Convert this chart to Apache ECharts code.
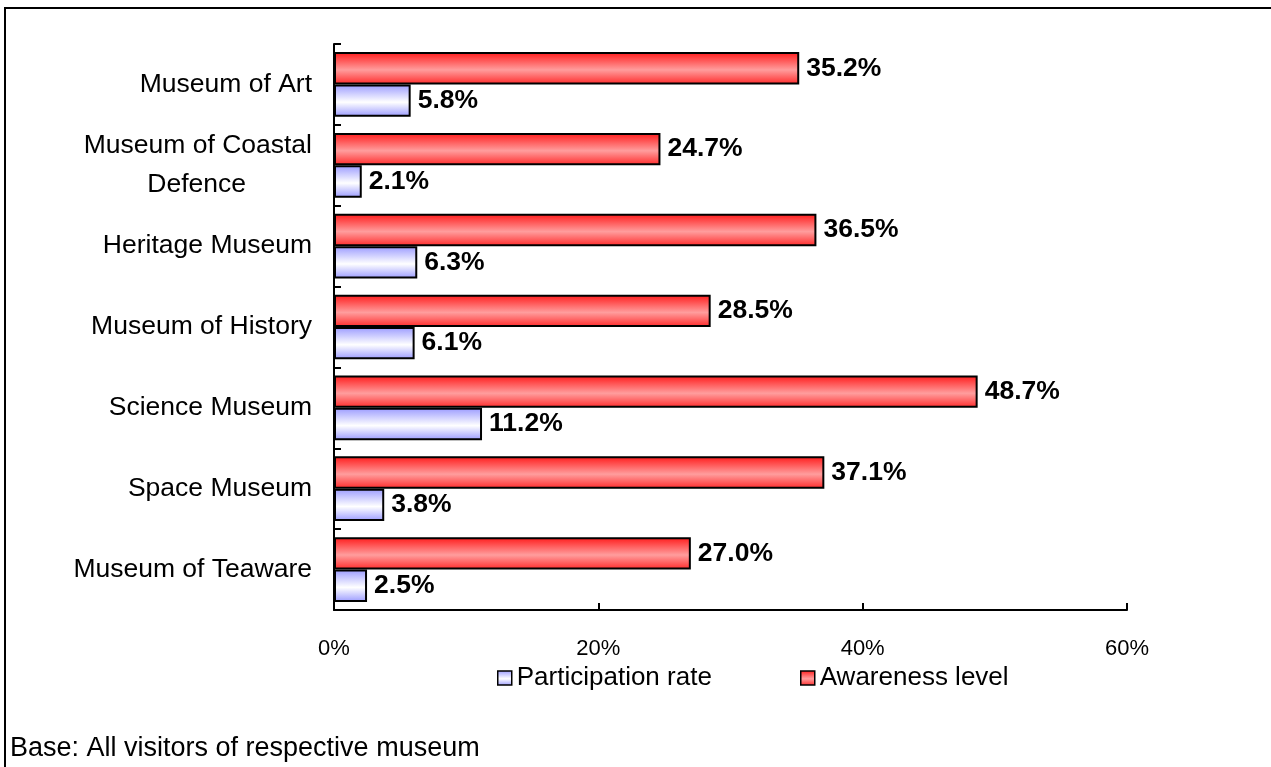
<!DOCTYPE html>
<html><head><meta charset="utf-8">
<script src="https://cdn.jsdelivr.net/npm/echarts@6/dist/echarts.min.js"></script>
<style>html,body{margin:0;padding:0;background:#fff}#c{width:1271px;height:767px}</style>
</head><body><div id="c"></div>
<script>
const categories = ['Museum of Art','Museum of Coastal Defence','Heritage Museum','Museum of History','Science Museum','Space Museum','Museum of Teaware'];
const awareness = [35.2, 24.7, 36.5, 28.5, 48.7, 37.1, 27.0];
const participation = [5.8, 2.1, 6.3, 6.1, 11.2, 3.8, 2.5];
const xTicks = [0, 20, 40, 60];
const footnote = 'Base: All visitors of respective museum';

const FONT = 'Arial, "Liberation Sans", sans-serif';
const redGrad = new echarts.graphic.LinearGradient(0,0,0,1,[
  {offset:0,color:'#ff1a1a'},{offset:0.55,color:'#ff9d9d'},{offset:1,color:'#ff2a2a'}]);
const blueGrad = new echarts.graphic.LinearGradient(0,0,0,1,[
  {offset:0,color:'#9a9aff'},{offset:0.55,color:'#ffffff'},{offset:1,color:'#9a9aff'}]);

const chart = echarts.init(document.getElementById('c'), null, {renderer:'canvas'});
const labelCfg = {show:true, position:'right', distance:7, color:'#000', fontFamily:FONT, fontSize:26.5, fontWeight:'bold',
  formatter: p => p.value.toFixed(1) + '%'};
chart.setOption({
  animation:false,
  backgroundColor:'#fff',
  grid:{left:334, right:144, top:44, bottom:157, containLabel:false},
  xAxis:{type:'value', min:xTicks[0], max:xTicks[xTicks.length-1], interval:20,
    axisLine:{show:true, lineStyle:{color:'#000', width:2}},
    axisTick:{show:true, inside:true, length:7, lineStyle:{color:'#000', width:2}},
    splitLine:{show:false},
    axisLabel:{margin:28, color:'#000', fontFamily:FONT, fontSize:22, formatter:'{value}%'}},
  yAxis:{type:'category', data:categories, inverse:true,
    axisLine:{show:true, lineStyle:{color:'#000', width:2}},
    axisTick:{show:true, inside:true, length:7, lineStyle:{color:'#000', width:2}},
    axisLabel:{margin:22, color:'#000', fontFamily:FONT, fontSize:26.5, lineHeight:39,
      formatter: v => v === 'Museum of Coastal Defence' ? '{a|Museum of Coastal}\n{b|Defence}' : v,
      rich:{a:{fontFamily:FONT, fontSize:26.5, color:'#000', lineHeight:39},
            b:{fontFamily:FONT, fontSize:26.5, color:'#000', lineHeight:39, padding:[0,66,0,0]}}}},
  legend:[
    {data:['Participation rate'], left:497, top:665, padding:0, itemWidth:14, itemHeight:14, itemGap:6,
     textStyle:{color:'#000', fontFamily:FONT, fontSize:26}, icon:'rect',
     itemStyle:{borderColor:'#000', borderWidth:1.5}},
    {data:['Awareness level'], left:800, top:665, padding:0, itemWidth:14, itemHeight:14, itemGap:6,
     textStyle:{color:'#000', fontFamily:FONT, fontSize:26}, icon:'rect',
     itemStyle:{borderColor:'#000', borderWidth:1.5}}
  ],
  series:[
    {name:'Awareness level', type:'bar', data:awareness, barGap:'0%', barCategoryGap:'20%',
     itemStyle:{color:redGrad, borderColor:'#000', borderWidth:2}, label:labelCfg},
    {name:'Participation rate', type:'bar', data:participation, barGap:'0%', barCategoryGap:'20%',
     itemStyle:{color:blueGrad, borderColor:'#000', borderWidth:2}, label:labelCfg}
  ],
  graphic:[
    {type:'polyline', shape:{points:[[5,767],[5,8],[1271,8]]}, style:{stroke:'#000', lineWidth:2, fill:null}},
    {type:'text', left:10, top:735, style:{text:footnote, fill:'#000', font:'27px ' + FONT}}
  ]
});
</script></body></html>
